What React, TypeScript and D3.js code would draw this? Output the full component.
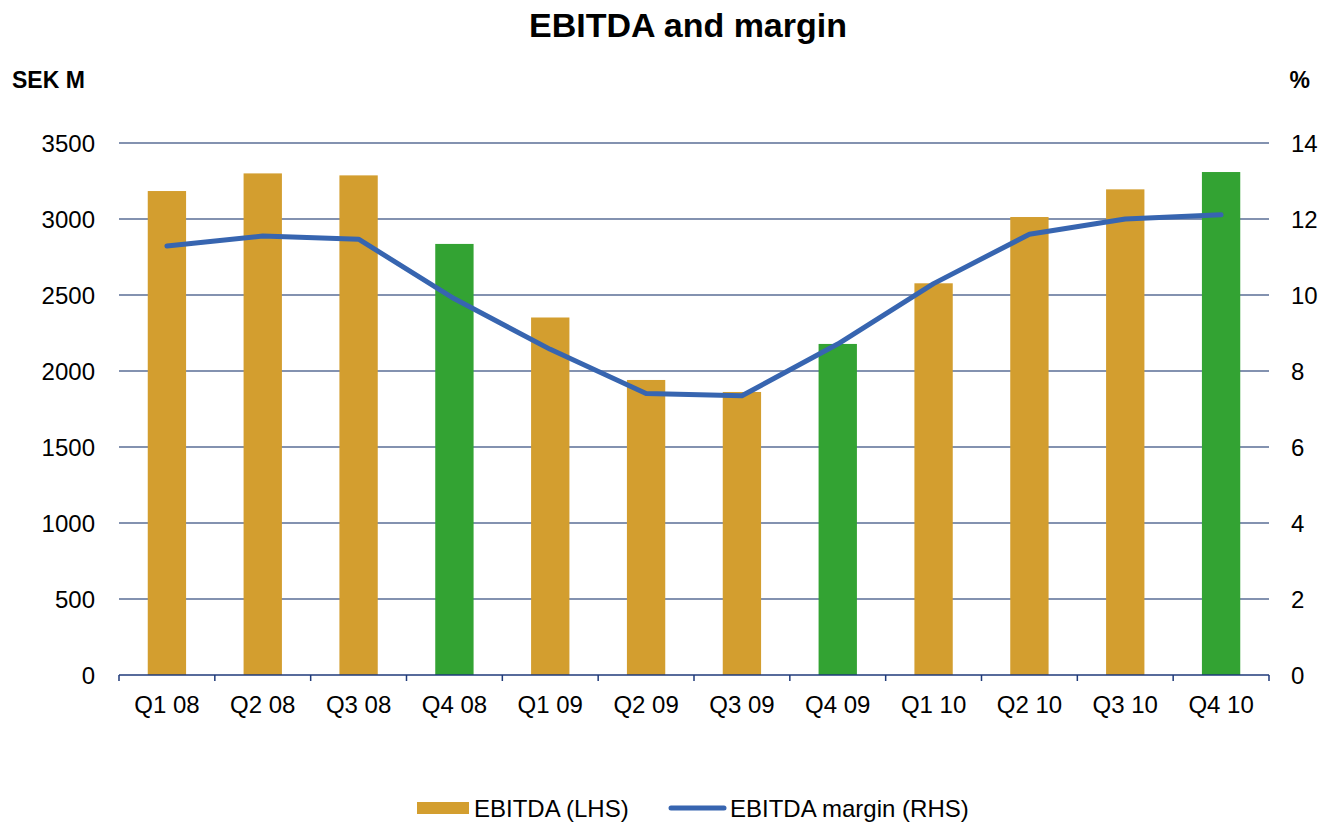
import * as d3 from "d3";
import { useRef, useEffect } from "react";

const quarters = ["Q1 08", "Q2 08", "Q3 08", "Q4 08", "Q1 09", "Q2 09", "Q3 09", "Q4 09", "Q1 10", "Q2 10", "Q3 10", "Q4 10"];
const ebitda = [3184, 3300, 3287, 2836, 2352, 1941, 1862, 2178, 2577, 3013, 3195, 3309];
const margin = [11.29, 11.55, 11.47, 9.9, 8.57, 7.41, 7.35, 8.71, 10.3, 11.6, 12.0, 12.11];
const q4 = ["Q4 08", "Q4 09", "Q4 10"];
const leftTicks = [0, 500, 1000, 1500, 2000, 2500, 3000, 3500];
const rightTicks = [0, 2, 4, 6, 8, 10, 12, 14];

const GOLD = "#d39e2f";
const GREEN = "#33a333";
const BLUE = "#3765b0";
const FONT = "Arial, 'Liberation Sans', sans-serif";

export default function App() {
    const ref = useRef<SVGSVGElement | null>(null);

    useEffect(() => {
        const svg = d3.select(ref.current);
        svg.selectAll("*").remove();

        const width = 1323;
        const height = 822;
        const left = 119, right = 1269, top = 143, bottom = 675;

        const x = d3.scaleBand().domain(quarters).range([left, right]).paddingInner(0.6).paddingOuter(0.3);
        const band = d3.scaleBand().domain(quarters).range([left, right]);
        const y = d3.scaleLinear().domain([0, 3500]).range([bottom, top]);
        const y2 = d3.scaleLinear().domain([0, 14]).range([bottom, top]);

        // title
        svg.append("text").attr("x", 688).attr("y", 37).attr("text-anchor", "middle")
            .attr("font-family", FONT).attr("font-weight", "bold").attr("font-size", 34)
            .text("EBITDA and margin");
        svg.append("text").attr("x", 12).attr("y", 88)
            .attr("font-family", FONT).attr("font-weight", "bold").attr("font-size", 23)
            .text("SEK M");
        svg.append("text").attr("x", 1310).attr("y", 88).attr("text-anchor", "end")
            .attr("font-family", FONT).attr("font-weight", "bold").attr("font-size", 23)
            .text("%");

        // grid
        svg.append("g").selectAll("line").data(leftTicks.filter((t) => t > 0)).enter().append("line")
            .attr("x1", left).attr("x2", right)
            .attr("y1", (d) => y(d)).attr("y2", (d) => y(d))
            .attr("stroke", "#5a6e96").attr("stroke-width", 1.5);

        // left labels
        svg.append("g").selectAll("text").data(leftTicks).enter().append("text")
            .attr("x", 95).attr("y", (d) => y(d) + 9).attr("text-anchor", "end")
            .attr("font-family", FONT).attr("font-size", 24).text((d) => d);

        // right labels
        svg.append("g").selectAll("text").data(rightTicks).enter().append("text")
            .attr("x", 1291).attr("y", (d) => y2(d) + 9)
            .attr("font-family", FONT).attr("font-size", 24).text((d) => d);

        // bars
        svg.append("g").selectAll("rect").data(quarters).enter().append("rect")
            .attr("x", (d) => x(d)!)
            .attr("y", (_, i) => y(ebitda[i]))
            .attr("width", x.bandwidth())
            .attr("height", (_, i) => bottom - y(ebitda[i]))
            .attr("fill", (d) => (q4.includes(d) ? GREEN : GOLD));

        // x axis
        svg.append("line").attr("x1", left).attr("x2", right).attr("y1", bottom).attr("y2", bottom)
            .attr("stroke", "#1f3a7a").attr("stroke-width", 1.5);
        const bounds = quarters.map((q) => band(q)!).concat([right]);
        svg.append("g").selectAll("line").data(bounds).enter().append("line")
            .attr("x1", (d) => d).attr("x2", (d) => d)
            .attr("y1", bottom).attr("y2", bottom + 6)
            .attr("stroke", "#1f3a7a").attr("stroke-width", 1.5);
        svg.append("g").selectAll("text").data(quarters).enter().append("text")
            .attr("x", (d) => band(d)! + band.bandwidth() / 2).attr("y", 713)
            .attr("text-anchor", "middle")
            .attr("font-family", FONT).attr("font-size", 24).text((d) => d);

        // margin line
        const line = d3.line<number>()
            .x((_, i) => band(quarters[i])! + band.bandwidth() / 2)
            .y((d) => y2(d));
        svg.append("path").datum(margin).attr("d", line)
            .attr("fill", "none").attr("stroke", BLUE).attr("stroke-width", 5)
            .attr("stroke-linecap", "round").attr("stroke-linejoin", "round");

        // legend
        svg.append("rect").attr("x", 417).attr("y", 802).attr("width", 52).attr("height", 12).attr("fill", GOLD);
        svg.append("text").attr("x", 474).attr("y", 817)
            .attr("font-family", FONT).attr("font-size", 24).text("EBITDA (LHS)");
        svg.append("line").attr("x1", 671).attr("x2", 724).attr("y1", 808).attr("y2", 808)
            .attr("stroke", BLUE).attr("stroke-width", 5).attr("stroke-linecap", "round");
        svg.append("text").attr("x", 730).attr("y", 817)
            .attr("font-family", FONT).attr("font-size", 24).text("EBITDA margin (RHS)");

        svg.attr("width", width).attr("height", height);
    }, []);

    return (
        <svg ref={ref} style={{ position: "absolute", left: 0, top: 0, background: "#fff" }}></svg>
    );
}
